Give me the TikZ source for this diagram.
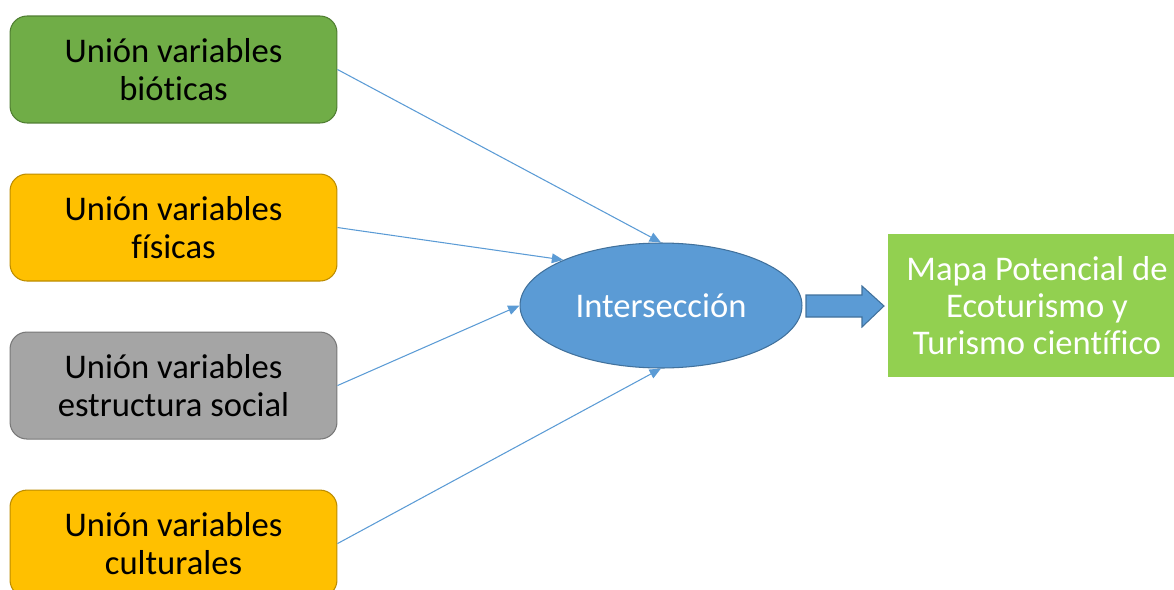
\documentclass[tikz,border=0pt]{standalone}
\usepackage{fontspec}
\setmainfont{Carlito}[Ligatures=NoCommon]
\usetikzlibrary{arrows.meta,positioning,shapes.geometric}

\definecolor{verdeBio}{HTML}{70AD47}
\definecolor{verdeBioBorde}{HTML}{507E32}
\definecolor{amarillo}{HTML}{FFC000}
\definecolor{amarilloBorde}{HTML}{BC8C00}
\definecolor{gris}{HTML}{A5A5A5}
\definecolor{grisBorde}{HTML}{787878}
\definecolor{azul}{HTML}{5B9BD5}
\definecolor{azulBorde}{HTML}{41719C}
\definecolor{verdeMapa}{HTML}{92D050}

\begin{document}
\begin{tikzpicture}[
    x=0.02cm, y=-0.02cm,
    node distance=1cm,
    every node/.style={font=\fontsize{19.7}{21.2}\selectfont, align=center},
    union/.style={rounded corners=0.34cm, draw, line width=0.6pt, minimum width=6.54cm, minimum height=2.14cm, inner sep=0pt},
    arrow/.style={draw=azul, line width=0.6pt, -{Triangle[length=6.5pt, width=5.5pt]}}
]
\useasboundingbox (0,0) rectangle (1174,589);

% --- Nodes ---
\node[union, fill=verdeBio, draw=verdeBioBorde] (bio) at (173.5,69.5) {Unión variables\\bióticas};
\node[union, fill=amarillo, draw=amarilloBorde, below=of bio] (fis) {Unión variables\\físicas};
\node[union, fill=gris, draw=grisBorde, below=of fis] (soc) {Unión variables\\estructura social};
\node[union, fill=amarillo, draw=amarilloBorde, below=of soc] (cul) {Unión variables\\culturales};

\node[ellipse, fill=azul, draw=azulBorde, line width=0.6pt, text=white,
    minimum width=5.64cm, minimum height=2.5cm, inner sep=0pt] (inter) at (661,305.5) {Intersección};

\node[fill=verdeMapa, text=white, minimum width=5.96cm, minimum height=2.86cm, inner sep=0pt] (mapa) at (1037,305.5)
    {Mapa Potencial de\\Ecoturismo y\\Turismo científico};

% --- Arrows ---
\draw[arrow] (bio.east) -- (inter.north);
\draw[arrow] (fis.east) -- (inter.155);
\draw[arrow] (soc.east) -- (inter.west);
\draw[arrow] (cul.east) -- (inter.south);

% --- Block arrow ---
\draw[fill=azul, draw=azulBorde, line width=0.6pt]
    (806,295) -- (862,295) -- (862,286) -- (884,306) -- (862,327) -- (862,317) -- (806,317) -- cycle;

\end{tikzpicture}
\end{document}
